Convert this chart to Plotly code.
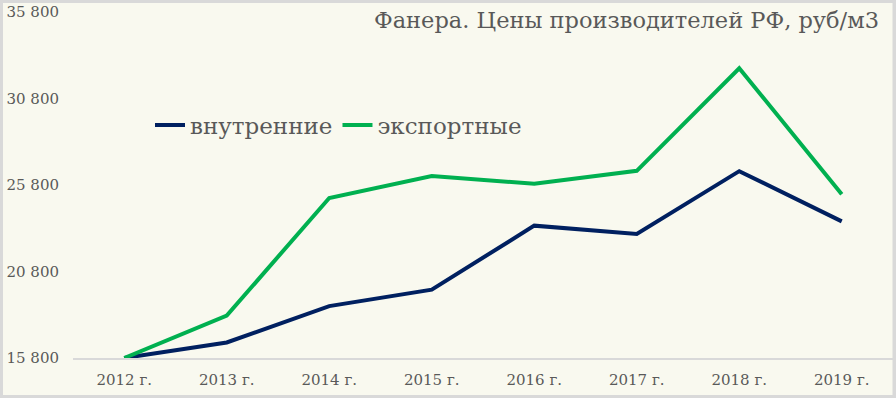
import plotly.graph_objects as go

years = ["2012 г.", "2013 г.", "2014 г.", "2015 г.", "2016 г.", "2017 г.", "2018 г.", "2019 г."]
domestic = [15800, 16700, 18800, 19750, 23450, 22970, 26600, 23700]
export = [15800, 18250, 25050, 26320, 25870, 26620, 32550, 25270]
y_ticks = [15800, 20800, 25800, 30800, 35800]

title_text = "Фанера. Цены производителей РФ, руб/м3"
names = ["внутренние", "экспортные"]
colors = ["#002060", "#00B050"]

FONT = "DejaVu Serif"
TXT = "#595959"
CREAM = "#F9F9EF"
GREY = "#D9D9D9"

W, H = 896, 398
L, R, T, B = 73, 3, 12, 40
pw, ph = W - L - R, H - T - B

def px_x(p):
    return (p - L) / pw

def px_y(p):
    return (H - B - p) / ph

fig = go.Figure()
for name, vals, col in zip(names, [domestic, export], colors):
    fig.add_trace(go.Scatter(x=years, y=vals, name=name, mode="lines",
                             line=dict(color=col, width=4)))

fig.add_shape(type="rect", xref="paper", yref="paper",
              x0=px_x(1.5), x1=px_x(894), y0=px_y(396.5), y1=px_y(1.5),
              fillcolor=CREAM, line=dict(color=GREY, width=3), layer="below")

fig.add_annotation(text=title_text, xref="paper", yref="paper",
                   x=px_x(881), y=px_y(20), xanchor="right", yanchor="middle",
                   showarrow=False, font=dict(family=FONT, size=22.5, color=TXT))

fig.update_layout(
    width=W, height=H,
    margin=dict(l=L, r=R, t=T, b=B, autoexpand=False),
    paper_bgcolor=GREY,
    plot_bgcolor="rgba(0,0,0,0)",
    separators=", ",
    font=dict(family=FONT, color=TXT),
    showlegend=True,
    legend=dict(orientation="h", x=px_x(150), y=px_y(125), xanchor="left", yanchor="middle",
                bgcolor="rgba(0,0,0,0)", font=dict(family=FONT, size=23, color=TXT),
                itemwidth=30),
    xaxis=dict(type="category", range=[-0.5, 7.5], showgrid=False, zeroline=False,
               showline=True, linecolor=GREY, linewidth=1.5, ticks="", automargin=False,
               tickfont=dict(family=FONT, size=15, color=TXT), ticklabelstandoff=7),
    yaxis=dict(range=[15800, 35800], tickvals=y_ticks, tickformat=",d", showgrid=False,
               zeroline=False, showline=False, ticks="", automargin=False,
               tickfont=dict(family=FONT, size=15, color=TXT), ticklabelstandoff=13),
)

fig.write_html("out.html", config={"displayModeBar": False},
               post_script="document.body.style.margin='0';document.body.style.overflow='hidden';")
